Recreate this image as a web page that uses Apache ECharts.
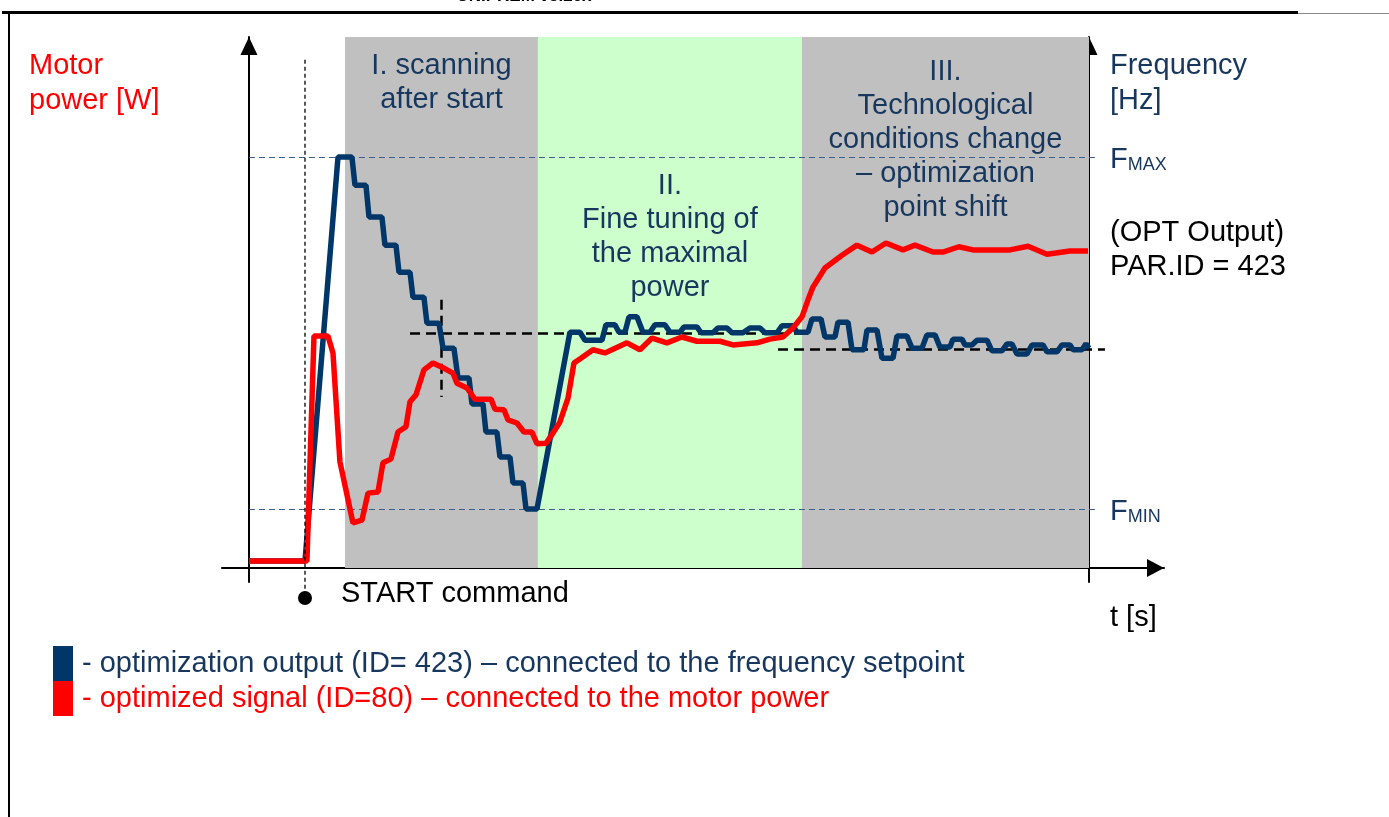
<!DOCTYPE html>
<html>
<head>
<meta charset="utf-8">
<script src="https://cdn.jsdelivr.net/npm/echarts@6/dist/echarts.min.js"></script>
<style>
  html, body { margin: 0; padding: 0; background: #ffffff; }
  #chart { width: 1389px; height: 817px; }
</style>
</head>
<body>
<div id="chart"></div>
<script>
// Time runs 0..100 s between the two vertical axes; both signals are given in % of axis height.

// optimization output (frequency setpoint), stepwise scan then small hunting steps
const freqT = [0, 6.67, 10.6, 12.26, 12.62, 13.93, 14.29, 15.83, 16.19, 17.5, 17.86, 19.17, 19.52, 20.83,
  21.19, 22.62, 23.1, 24.4, 24.88, 26.19, 26.55, 27.86, 28.21, 29.52, 29.88, 31.07, 31.43, 32.62, 32.98, 34.29,
  38.21, 39.4, 40.0, 42.02, 42.5, 43.57, 44.05, 44.76, 45.24, 46.19, 46.9, 47.74, 48.33, 49.52, 50.12, 51.31,
  51.79, 53.33, 53.81, 55.24, 55.83, 56.9, 57.5, 58.81, 59.64, 60.83, 61.43, 62.86, 63.45, 64.76, 65.24, 66.55,
  67.02, 68.1, 68.57, 69.76, 70.12, 71.31, 71.79, 73.21, 73.57, 74.76, 75.36, 76.67, 77.14, 78.33, 78.93, 80.12,
  80.71, 81.67, 82.26, 83.45, 83.81, 84.88, 85.24, 86.07, 86.67, 87.86, 88.45, 89.64, 90.24, 90.83, 91.43, 92.62,
  93.21, 94.52, 95.0, 96.19, 96.79, 97.74, 98.1, 99.17, 99.64, 100];
const freqV = [1.3, 1.3, 77.4, 77.4, 72.1, 72.1, 66.1, 66.1, 60.8, 60.8, 55.7, 55.7, 51.0, 51.0,
  46.1, 46.1, 41.4, 41.4, 35.8, 35.8, 30.9, 30.9, 25.6, 25.6, 20.9, 20.9, 16.0, 16.0, 11.1, 11.1,
  44.4, 44.4, 42.9, 42.9, 45.8, 45.8, 44.4, 44.4, 47.3, 47.3, 44.4, 44.4, 45.8, 45.8, 44.4, 44.4,
  45.4, 45.4, 44.3, 44.3, 45.2, 45.2, 44.3, 44.3, 45.2, 45.2, 44.3, 44.3, 45.6, 45.6, 44.4, 44.4,
  46.9, 46.9, 43.5, 43.5, 46.3, 46.3, 41.1, 41.1, 44.8, 44.8, 39.5, 39.5, 43.7, 43.7, 41.4, 41.4,
  43.9, 43.9, 41.6, 41.6, 43.1, 43.1, 42.0, 42.0, 42.9, 42.9, 40.9, 40.9, 42.2, 42.2, 40.3, 40.3,
  42.0, 42.0, 40.7, 40.7, 42.0, 42.0, 41.1, 41.1, 42.2, 41.4];

// optimized signal (motor power)
const powerT = [0, 6.9, 7.74, 9.4, 10.0, 10.83, 12.38, 13.45, 14.17, 15.36, 15.95, 16.9, 17.74, 18.69, 19.17,
  19.88, 20.83, 21.9, 23.1, 24.29, 24.76, 25.95, 26.9, 28.81, 29.29, 30.36, 30.83, 31.9, 32.74, 33.69, 34.29,
  35.36, 36.19, 37.02, 37.98, 38.69, 39.52, 40.95, 42.38, 45.0, 46.55, 47.98, 49.76, 51.55, 53.33, 56.07, 57.62,
  60.48, 62.02, 63.57, 64.76, 65.83, 66.55, 67.14, 68.57, 70.6, 72.38, 74.17, 75.83, 77.86, 79.29, 81.43, 82.62,
  84.52, 86.19, 90.6, 92.74, 95.0, 97.74, 99.88];
const powerV = [1.3, 1.3, 43.7, 43.7, 40.5, 20.0, 8.5, 9.0, 14.1, 14.3, 19.8, 20.5, 25.6, 26.6, 31.3,
  32.6, 37.3, 38.6, 37.7, 36.7, 34.8, 33.9, 31.8, 31.8, 29.9, 29.8, 27.9, 27.3, 25.6, 25.6, 23.4,
  23.5, 25.4, 27.5, 32.0, 38.6, 39.5, 41.1, 40.5, 42.4, 41.1, 43.3, 42.4, 43.5, 42.7, 42.7, 42.0,
  42.4, 43.1, 43.5, 45.2, 47.3, 50.5, 52.9, 56.5, 58.9, 60.8, 59.5, 61.2, 59.9, 60.8, 59.5, 59.5,
  60.5, 59.9, 59.9, 60.6, 59.1, 59.7, 59.7];

// operating phases (start / end time) and their captions
const phaseEdges = [11.43, 34.40, 65.83, 100];
const phaseNames = [
  'I. scanning\nafter start',
  'II.\nFine tuning of\nthe maximal\npower',
  'III.\nTechnological\nconditions change\n– optimization\npoint shift'
];
const phaseColors = ['#c0c0c0', '#ccffcc', '#c0c0c0'];
const phaseLabelGap = [12, 132, 18];

// frequency limits and found optimum levels
const fMax = 77.4;
const fMin = 11.1;
const optLevel1 = 44.3;
const optLevel2 = 41.2;
const optCrossT = 22.86;
const optCrossRange = [50.5, 32.2];
const optLine1Range = [19.17, 65.5];
const optLine2Range = [62.98, 101.9];
const limitLineEnd = 100.95;

// START command instant, marker line extent
const startT = 6.67;
const startLine = [95.7, -5.65];

const freqName = '- optimization output (ID= 423) – connected to the frequency setpoint';
const powerName = '- optimized signal (ID=80) – connected to the motor power';

const FONT = "'Liberation Sans', Arial, sans-serif";
const FS = 29;
const NAVY = '#17375e';
const LINE_BLUE = '#003768';
const RED = '#ff0000';

const freqData = freqT.map((t, i) => [t, freqV[i]]);
const powerData = powerT.map((t, i) => [t, powerV[i]]);

const chart = echarts.init(document.getElementById('chart'), null, { renderer: 'canvas' });

const axisArrowLine = {
  show: true,
  lineStyle: { color: '#000', width: 2 },
  symbol: ['none', 'triangle'],
  symbolSize: [17, 18],
  symbolOffset: [0, -9]
};

const thickDash = { color: '#000', width: 2.5, type: [10, 6] };
const thinDash = { color: '#3d5f8c', width: 1.2, type: [6, 4] };

const subRich = {
  f: { fontSize: FS, lineHeight: 34, color: NAVY, fontFamily: FONT, verticalAlign: 'bottom' },
  s: { fontSize: 18, lineHeight: 18, color: NAVY, fontFamily: FONT, verticalAlign: 'bottom' }
};

const option = {
  animation: false,
  grid: { left: 222, right: 225, top: 37, bottom: 235, outerBoundsMode: 'none' },
  xAxis: {
    type: 'value',
    min: -3.21,
    max: 108.93,
    axisLine: Object.assign({}, axisArrowLine, { onZero: true, symbolSize: [18, 17], symbolOffset: [0, -8.5] }),
    axisTick: { show: false },
    axisLabel: { show: false },
    splitLine: { show: false }
  },
  yAxis: [
    {
      type: 'value', min: -2.64, max: 100, position: 'left',
      axisLine: Object.assign({}, axisArrowLine, { onZero: true }),
      axisTick: { show: false }, axisLabel: { show: false }, splitLine: { show: false }
    },
    {
      type: 'value', min: -2.64, max: 100, position: 'right', offset: -75,
      axisLine: Object.assign({}, axisArrowLine, { onZero: false }),
      axisTick: { show: false }, axisLabel: { show: false }, splitLine: { show: false }
    }
  ],
  legend: {
    data: [
      { name: freqName, textStyle: { color: NAVY } },
      { name: powerName, textStyle: { color: RED } }
    ],
    orient: 'vertical',
    left: 53,
    top: 646,
    padding: 0,
    itemWidth: 20,
    itemHeight: 35,
    itemGap: 0,
    icon: 'rect',
    selectedMode: false,
    itemStyle: { borderWidth: 0 },
    textStyle: { fontSize: FS, fontFamily: FONT, padding: [0, 0, 0, 4] }
  },
  series: [
    {
      name: powerName,
      type: 'line',
      yAxisIndex: 0,
      data: powerData,
      symbol: 'none',
      z: 4,
      lineStyle: { color: RED, width: 5.5 },
      itemStyle: { color: RED },
      markArea: {
        silent: true,
        data: phaseNames.map((name, i) => [
          {
            xAxis: phaseEdges[i], yAxis: 0,
            name: name,
            itemStyle: { color: phaseColors[i] },
            label: {
              show: true, position: 'insideTop', distance: phaseLabelGap[i],
              color: NAVY, fontSize: FS, lineHeight: 34, fontFamily: FONT, align: 'center'
            }
          },
          { xAxis: phaseEdges[i + 1], yAxis: 100 }
        ])
      }
    },
    {
      name: freqName,
      type: 'line',
      yAxisIndex: 1,
      data: freqData,
      symbol: 'none',
      z: 3,
      lineStyle: { color: LINE_BLUE, width: 5.5 },
      itemStyle: { color: LINE_BLUE },
      markLine: {
        silent: true,
        symbol: 'none',
        z: 2,
        label: { show: false },
        data: [
          [
            {
              coord: [0, fMax], lineStyle: thinDash,
              label: { show: true, position: 'end', distance: 13, formatter: '{f|F}{s|MAX}', rich: subRich }
            },
            { coord: [limitLineEnd, fMax] }
          ],
          [
            {
              coord: [0, fMin], lineStyle: thinDash,
              label: { show: true, position: 'end', distance: 13, formatter: '{f|F}{s|MIN}', rich: subRich }
            },
            { coord: [limitLineEnd, fMin] }
          ],
          [{ coord: [optLine1Range[0], optLevel1], lineStyle: thickDash }, { coord: [optLine1Range[1], optLevel1] }],
          [{ coord: [optLine2Range[0], optLevel2], lineStyle: thickDash }, { coord: [optLine2Range[1], optLevel2] }],
          [{ coord: [optCrossT, optCrossRange[0]], lineStyle: thickDash }, { coord: [optCrossT, optCrossRange[1]] }]
        ]
      }
    },
    {
      name: 'START',
      type: 'custom',
      yAxisIndex: 0,
      clip: false,
      silent: true,
      z: 5,
      data: [[startT, startLine[0], startLine[1]]],
      encode: { x: 0, y: 1 },
      renderItem: function (params, api) {
        const top = api.coord([api.value(0), api.value(1)]);
        const bot = api.coord([api.value(0), api.value(2)]);
        return {
          type: 'group',
          children: [
            {
              type: 'line',
              shape: { x1: top[0], y1: top[1], x2: bot[0], y2: bot[1] },
              style: { stroke: '#000', lineWidth: 1.3, lineDash: [4, 3] }
            },
            {
              type: 'circle',
              shape: { cx: bot[0], cy: bot[1], r: 7 },
              style: { fill: '#000' }
            }
          ]
        };
      }
    }
  ],
  graphic: [
    { type: 'line', shape: { x1: 2, y1: 12.5, x2: 1298, y2: 12.5 }, style: { stroke: '#000', lineWidth: 3 } },
    { type: 'line', shape: { x1: 1298, y1: 13.5, x2: 1389, y2: 13.5 }, style: { stroke: '#8a8a8a', lineWidth: 1 } },
    { type: 'line', shape: { x1: 9, y1: 12, x2: 9, y2: 817 }, style: { stroke: '#000', lineWidth: 2 } },
    {
      type: 'text', x: 524, y: 5,
      style: { text: 'UNIPREM v5.20x', fill: '#000', font: "bold 17px " + FONT, align: 'center', verticalAlign: 'bottom' }
    },
    {
      type: 'text', x: 29, y: 48.5,
      style: { text: 'Motor\npower [W]', fill: RED, font: FS + 'px ' + FONT, lineHeight: 35, align: 'left', verticalAlign: 'top' }
    },
    {
      type: 'text', x: 1110, y: 48.5,
      style: { text: 'Frequency\n[Hz]', fill: NAVY, font: FS + 'px ' + FONT, lineHeight: 35, align: 'left', verticalAlign: 'top' }
    },
    {
      type: 'text', x: 1110, y: 216,
      style: { text: '(OPT Output)\nPAR.ID = 423', fill: '#000', font: FS + 'px ' + FONT, lineHeight: 34, align: 'left', verticalAlign: 'top' }
    },
    {
      type: 'text', x: 341, y: 593.5,
      style: { text: 'START command', fill: '#000', font: FS + 'px ' + FONT, align: 'left', verticalAlign: 'middle' }
    },
    {
      type: 'text', x: 1110, y: 618,
      style: { text: 't [s]', fill: '#000', font: FS + 'px ' + FONT, align: 'left', verticalAlign: 'middle' }
    }
  ]
};

chart.setOption(option);
</script>
</body>
</html>
